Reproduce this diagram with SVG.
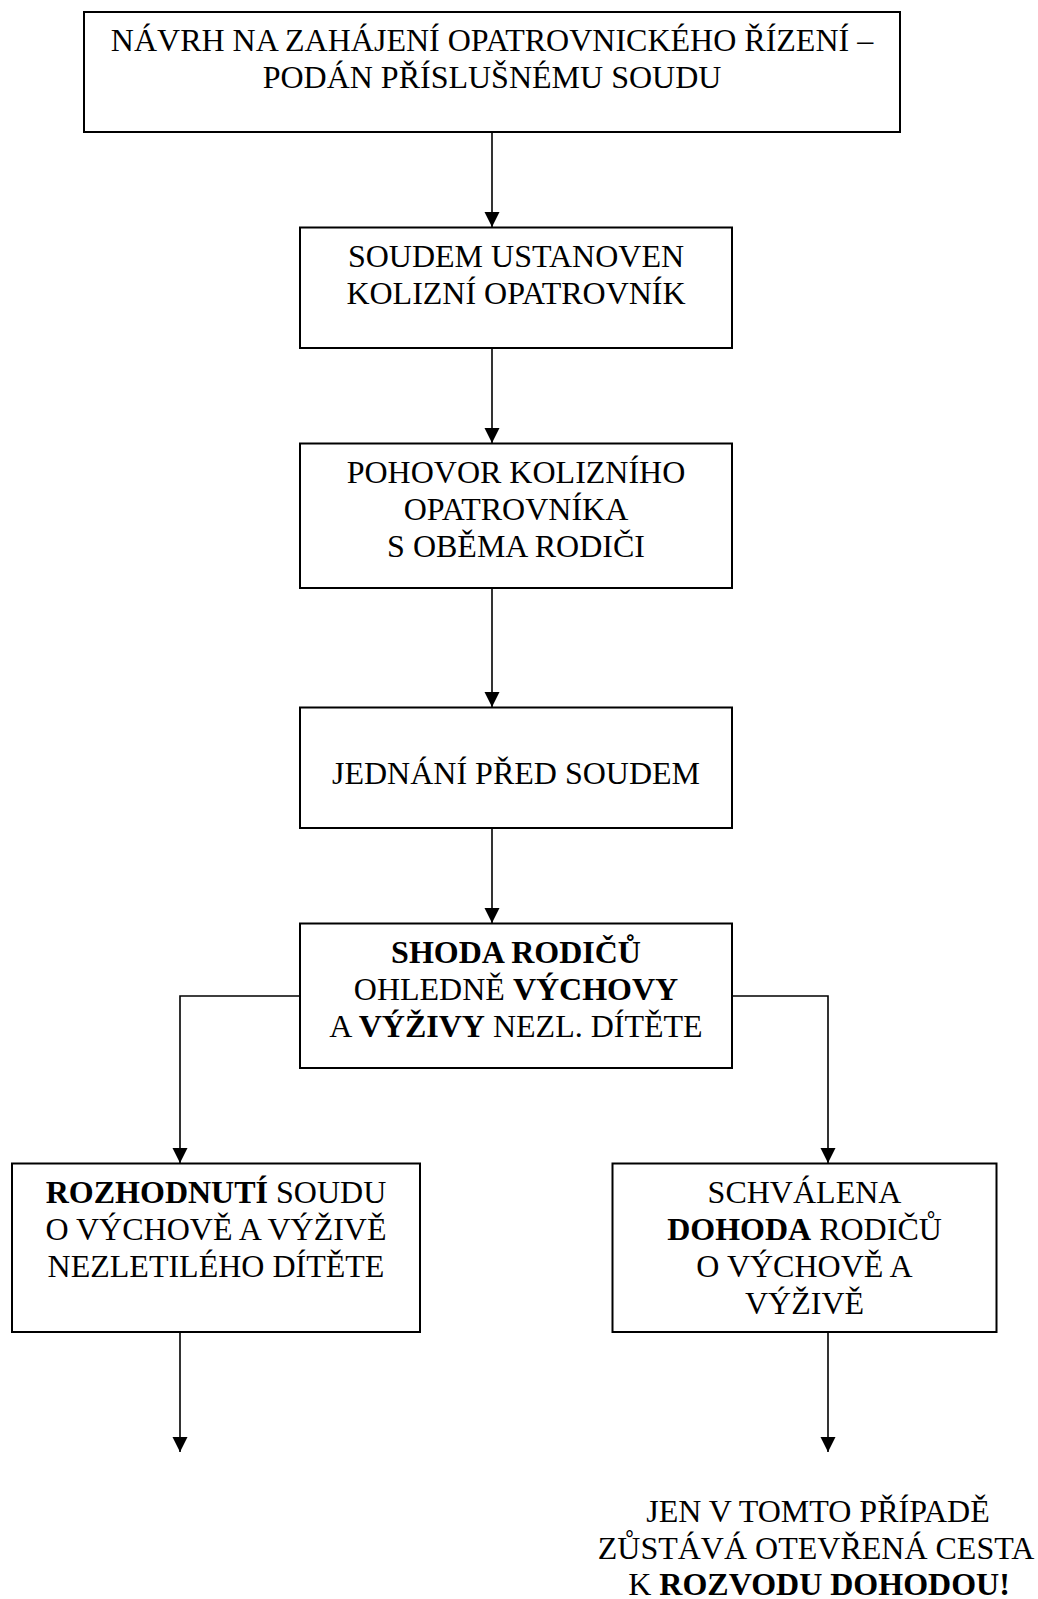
<svg xmlns="http://www.w3.org/2000/svg" width="1038" height="1599" viewBox="0 0 1038 1599">
<style>
.box{fill:#fff;stroke:#000;stroke-width:2}
.t{font-family:"Liberation Serif","Times New Roman",serif;font-size:32px;fill:#000;text-anchor:middle}
.b{font-weight:bold}
.c{fill:none;stroke:#000;stroke-width:1.6}
</style>
<defs>
<marker id="ah" markerUnits="userSpaceOnUse" markerWidth="16" markerHeight="16" refX="15" refY="7.5" orient="auto">
<path d="M0,0 L15,7.5 L0,15 z" fill="#000"/>
</marker>
</defs>
<rect width="1038" height="1599" fill="#fff"/>
<g id="connectors">
<path class="c" d="M492,132 V227" marker-end="url(#ah)"/>
<path class="c" d="M492,348 V443" marker-end="url(#ah)"/>
<path class="c" d="M492,588 V707" marker-end="url(#ah)"/>
<path class="c" d="M492,828 V923" marker-end="url(#ah)"/>
<path class="c" d="M300,996 H180 V1163" marker-end="url(#ah)"/>
<path class="c" d="M732,996 H828 V1163" marker-end="url(#ah)"/>
<path class="c" d="M180,1332 V1452" marker-end="url(#ah)"/>
<path class="c" d="M828,1332 V1452" marker-end="url(#ah)"/>
</g>
<g id="n1">
<rect class="box" x="84" y="12" width="816" height="120"/>
<text class="t" x="492" y="51">NÁVRH NA ZAHÁJENÍ OPATROVNICKÉHO ŘÍZENÍ –</text>
<text class="t" x="492" y="88">PODÁN PŘÍSLUŠNÉMU SOUDU</text>
</g>
<g id="n2">
<rect class="box" x="300" y="227.5" width="432" height="120.5"/>
<text class="t" x="516" y="267">SOUDEM USTANOVEN</text>
<text class="t" x="516" y="304">KOLIZNÍ OPATROVNÍK</text>
</g>
<g id="n3">
<rect class="box" x="300" y="443.5" width="432" height="144.5"/>
<text class="t" x="516" y="483">POHOVOR KOLIZNÍHO</text>
<text class="t" x="516" y="520">OPATROVNÍKA</text>
<text class="t" x="516" y="557">S OBĚMA RODIČI</text>
</g>
<g id="n4">
<rect class="box" x="300" y="707.5" width="432" height="120.5"/>
<text class="t" x="516" y="784">JEDNÁNÍ PŘED SOUDEM</text>
</g>
<g id="n5">
<rect class="box" x="300" y="923.5" width="432" height="144.5"/>
<text class="t" x="516" y="963"><tspan class="b">SHODA RODIČŮ</tspan></text>
<text class="t" x="516" y="1000">OHLEDNĚ <tspan class="b">VÝCHOVY</tspan></text>
<text class="t" x="516" y="1037">A <tspan class="b">VÝŽIVY</tspan> NEZL. DÍTĚTE</text>
</g>
<g id="n6">
<rect class="box" x="12" y="1163.5" width="408" height="168.5"/>
<text class="t" x="216" y="1203"><tspan class="b">ROZHODNUTÍ</tspan> SOUDU</text>
<text class="t" x="216" y="1240">O VÝCHOVĚ A VÝŽIVĚ</text>
<text class="t" x="216" y="1277">NEZLETILÉHO DÍTĚTE</text>
</g>
<g id="n7">
<rect class="box" x="612.5" y="1163.5" width="384" height="168.5"/>
<text class="t" x="804.5" y="1203">SCHVÁLENA</text>
<text class="t" x="804.5" y="1240"><tspan class="b">DOHODA</tspan> RODIČŮ</text>
<text class="t" x="804.5" y="1277">O VÝCHOVĚ A</text>
<text class="t" x="804.5" y="1314">VÝŽIVĚ</text>
</g>
<g id="n8">
<text class="t" x="818" y="1522">JEN V TOMTO PŘÍPADĚ</text>
<text class="t" x="816" y="1559">ZŮSTÁVÁ OTEVŘENÁ CESTA</text>
<text class="t" x="819" y="1595">K <tspan class="b">ROZVODU DOHODOU!</tspan></text>
</g>
</svg>
